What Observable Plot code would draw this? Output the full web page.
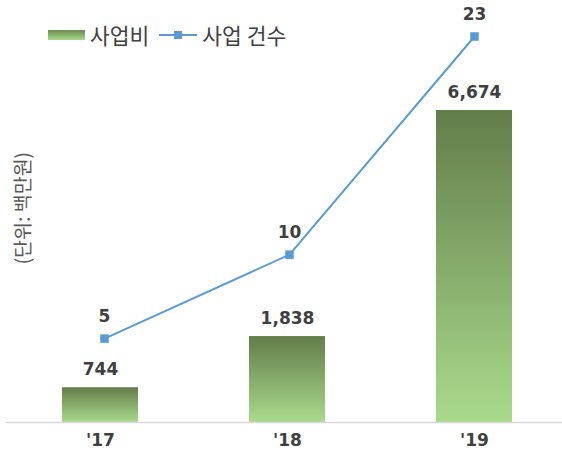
<!DOCTYPE html>
<html>
<head>
<meta charset="utf-8">
<script src="https://cdn.jsdelivr.net/npm/d3@7"></script>
<script src="https://cdn.jsdelivr.net/npm/@observablehq/plot@0.6"></script>
<style>
  html, body { margin: 0; padding: 0; background: #fff; }
  #wrap { position: relative; width: 562px; height: 456px; overflow: hidden; }
  #wrap svg { position: absolute; left: 0; top: 0; background: transparent; }
  #legend { position: absolute; left: 48px; top: 19px; display: flex; align-items: center;
    font-family: "Noto Sans CJK KR", sans-serif; font-size: 21.5px; color: #404040; white-space: nowrap; }
  .sw { width: 37px; height: 10px; background: linear-gradient(#6b8a50, #a9da8c); margin-right: 5px; }
  .ln { position: relative; width: 38px; height: 2px; background: #5B9BD5; margin: 0 5px 0 10px; }
  .ln::after { content: ""; position: absolute; left: 15px; top: -3px; width: 8px; height: 8px; background: #5B9BD5; }
</style>
</head>
<body>
<div id="wrap">
  <div id="legend"><span class="sw"></span><span>사업비</span><span class="ln"></span><span>사업 건수</span></div>
</div>
<script>
const years = ["'17", "'18", "'19"];
const costs = [744, 1838, 6674];
const counts = [5, 10, 23];
const seriesNames = ["사업비", "사업 건수"];
const unitLabel = "(단위: 백만원)";

const data = years.map((y, i) => ({year: y, cost: costs[i], count: counts[i]}));
const fmt = d3.format(",");

const xScale = {domain: years, align: 0.528, paddingInner: 0.594, paddingOuter: 0.2836, axis: null};
const W = 562, H = 456;

function gradDefs() {
  const ns = "http://www.w3.org/2000/svg";
  const defs = document.createElementNS(ns, "defs");
  const g = document.createElementNS(ns, "linearGradient");
  g.setAttribute("id", "barGrad");
  g.setAttribute("x1", "0"); g.setAttribute("y1", "0");
  g.setAttribute("x2", "0"); g.setAttribute("y2", "1");
  [["0%", "#637d4a"], ["100%", "#a9da8c"]].forEach(([o, c]) => {
    const s = document.createElementNS(ns, "stop");
    s.setAttribute("offset", o); s.setAttribute("stop-color", c);
    g.appendChild(s);
  });
  defs.appendChild(g);
  return defs;
}

const barPlot = Plot.plot({
  width: W, height: H,
  marginLeft: 6, marginRight: 0, marginTop: 110, marginBottom: 34,
  style: {fontFamily: "'DejaVu Sans', 'Noto Sans CJK KR', sans-serif", background: "transparent"},
  x: xScale,
  y: {domain: [0, 6674], axis: null},
  marks: [
    gradDefs,
    Plot.barY(data, {x: "year", y: "cost", fill: "url(#barGrad)"}),
    Plot.ruleY([0], {stroke: "#d9d9d9", strokeWidth: 1.5}),
    Plot.text(data, {x: "year", y: "cost", text: d => fmt(d.cost), dy: -18,
      fontWeight: "bold", fontSize: 17, fill: "#3f3f3f"}),
    Plot.text(years, {x: d => d, frameAnchor: "bottom", dy: 23, text: d => d,
      fontWeight: "bold", fontSize: 17, fill: "#3f3f3f"}),
    Plot.text([unitLabel], {frameAnchor: "top-left", dx: 10, dy: 154, rotate: -90,
      fontFamily: "'Noto Sans CJK KR', sans-serif", fontSize: 19.5, fill: "#595959", text: d => d})
  ]
});

const linePlot = Plot.plot({
  width: W, height: H,
  marginLeft: 6, marginRight: 0, marginTop: 36, marginBottom: 34,
  style: {fontFamily: "'DejaVu Sans', sans-serif", background: "transparent"},
  x: xScale,
  y: {domain: [0, 23], axis: null},
  marks: [
    Plot.line(data, {x: "year", y: "count", stroke: "#5B9BD5", strokeWidth: 2}),
    Plot.dot(data, {x: "year", y: "count", symbol: "square", r: 4.8, fill: "#5B9BD5", stroke: "none"}),
    Plot.text(data, {x: "year", y: "count", text: d => String(d.count), dy: -22,
      fontWeight: "bold", fontSize: 17, fill: "#3f3f3f"})
  ]
});

const wrap = document.getElementById("wrap");
wrap.insertBefore(barPlot, wrap.firstChild);
wrap.insertBefore(linePlot, document.getElementById("legend"));
</script>
</body>
</html>
